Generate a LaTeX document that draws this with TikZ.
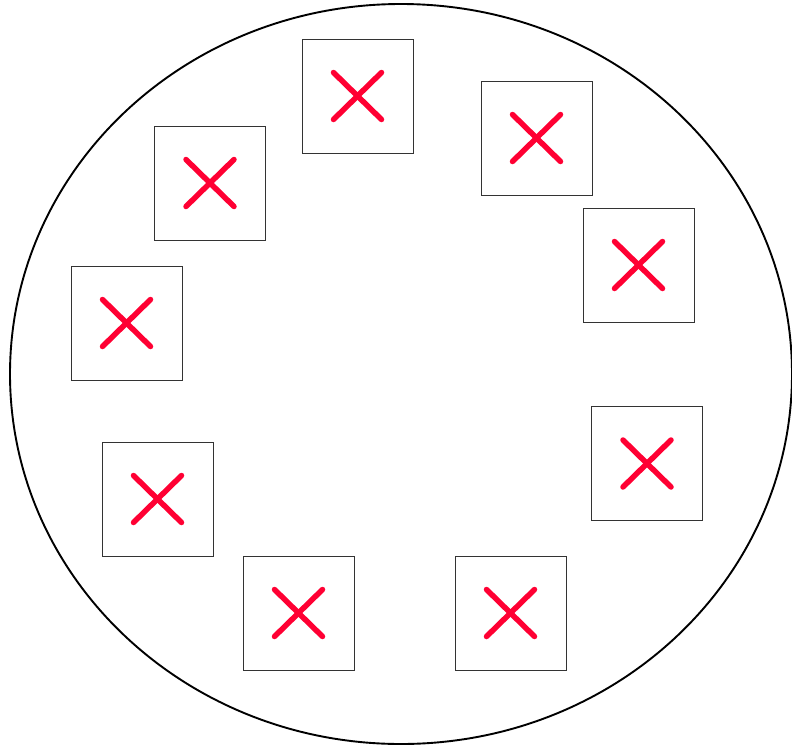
\documentclass[tikz,border=0pt]{standalone}
\definecolor{xred}{HTML}{FF0033}
\definecolor{boxline}{HTML}{333333}
\tikzset{
  cell/.style={draw=boxline, line width=0.8pt, minimum width=111pt, minimum height=114pt, inner sep=0pt, fill=white},
  cross/.style={draw=xred, line width=5.5pt, line cap=round},
  ring/.style={draw=black, line width=1.9pt}
}
\begin{document}
\begin{tikzpicture}[x=1pt,y=-1pt]
\useasboundingbox (0,0) rectangle (792,747);
\draw[ring] (401,374) ellipse [x radius=391, y radius=370];
\foreach \n/\cx/\cy in {a/357.5/96, b/536.5/138, c/210/183, d/638.5/265, e/126.5/323, f/647/463.5, g/157.5/499, h/298.5/613, i/510.5/613}{
  \node[cell] (\n) at (\cx,\cy) {};
  \draw[cross] ([shift={(-24pt,-23.5pt)}]\n.center) -- ([shift={(24pt,23.5pt)}]\n.center);
  \draw[cross] ([shift={(-24pt,23.5pt)}]\n.center) -- ([shift={(24pt,-23.5pt)}]\n.center);
}
\end{tikzpicture}
\end{document}
